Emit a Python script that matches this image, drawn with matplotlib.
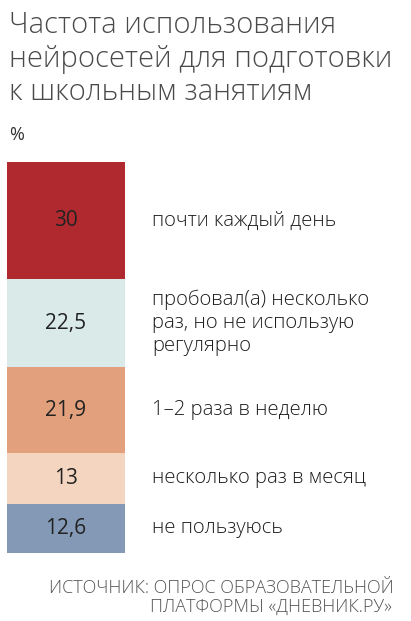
import matplotlib.pyplot as plt
from matplotlib.transforms import blended_transform_factory

# data
categories = ["почти каждый день",
              "пробовал(а) несколько\nраз, но не использую\nрегулярно",
              "1–2 раза в неделю",
              "несколько раз в месяц",
              "не пользуюсь"]
values = [30, 22.5, 21.9, 13, 12.6]
value_labels = ["30", "22,5", "21,9", "13", "12,6"]
colors = ["#b0292f", "#d9eae9", "#e2a07c", "#f4d6c0", "#8499b5"]

W, H = 411, 621
fig = plt.figure(figsize=(W / 100, H / 100), dpi=100)
fig.patch.set_facecolor("white")

# title
title_lines = ["Частота использования", "нейросетей для подготовки", "к школьным занятиям"]
for i, line in enumerate(title_lines):
    fig.text(9 / W, 1 - (33 + i * 33.5) / H, line, fontsize=21, family="Open Sans",
             weight="light", color="#4a4a4a", va="baseline", ha="left")
fig.text(9 / W, 1 - 140 / H, "%", fontsize=13, family="Open Sans", color="#333333",
         va="baseline", ha="left")

# stacked bar
ax = fig.add_axes([7 / W, 1 - 553 / H, 118 / W, 391 / H])
tr = blended_transform_factory(ax.transAxes, ax.transData)
bottom = 0
for v, c, vl, cat in zip(values, colors, value_labels, categories):
    ax.bar(0, v, bottom=bottom, width=1, color=c, align="edge")
    mid = bottom + v / 2
    ax.text(0.5, mid, vl, ha="center", va="center", fontsize=15,
            family="Open Sans", color="#222222")
    ax.text(145 / 118, mid, cat, transform=tr, ha="left", va="center",
            fontsize=14.6, family="Open Sans", weight="light", color="#1e1e1e",
            linespacing=1.2)
    bottom += v
ax.set_xlim(0, 1)
ax.set_ylim(100, 0)
ax.axis("off")

# source
fig.text(394 / W, 1 - 593 / H, "ИСТОЧНИК: ОПРОС ОБРАЗОВАТЕЛЬНОЙ", fontsize=13,
         family="Open Sans", weight="light", color="#555555", ha="right", va="baseline")
fig.text(392 / W, 1 - 612 / H, "ПЛАТФОРМЫ «ДНЕВНИК.РУ»", fontsize=13,
         family="Open Sans", weight="light", color="#555555", ha="right", va="baseline")

fig.savefig("out.png", dpi=100)
